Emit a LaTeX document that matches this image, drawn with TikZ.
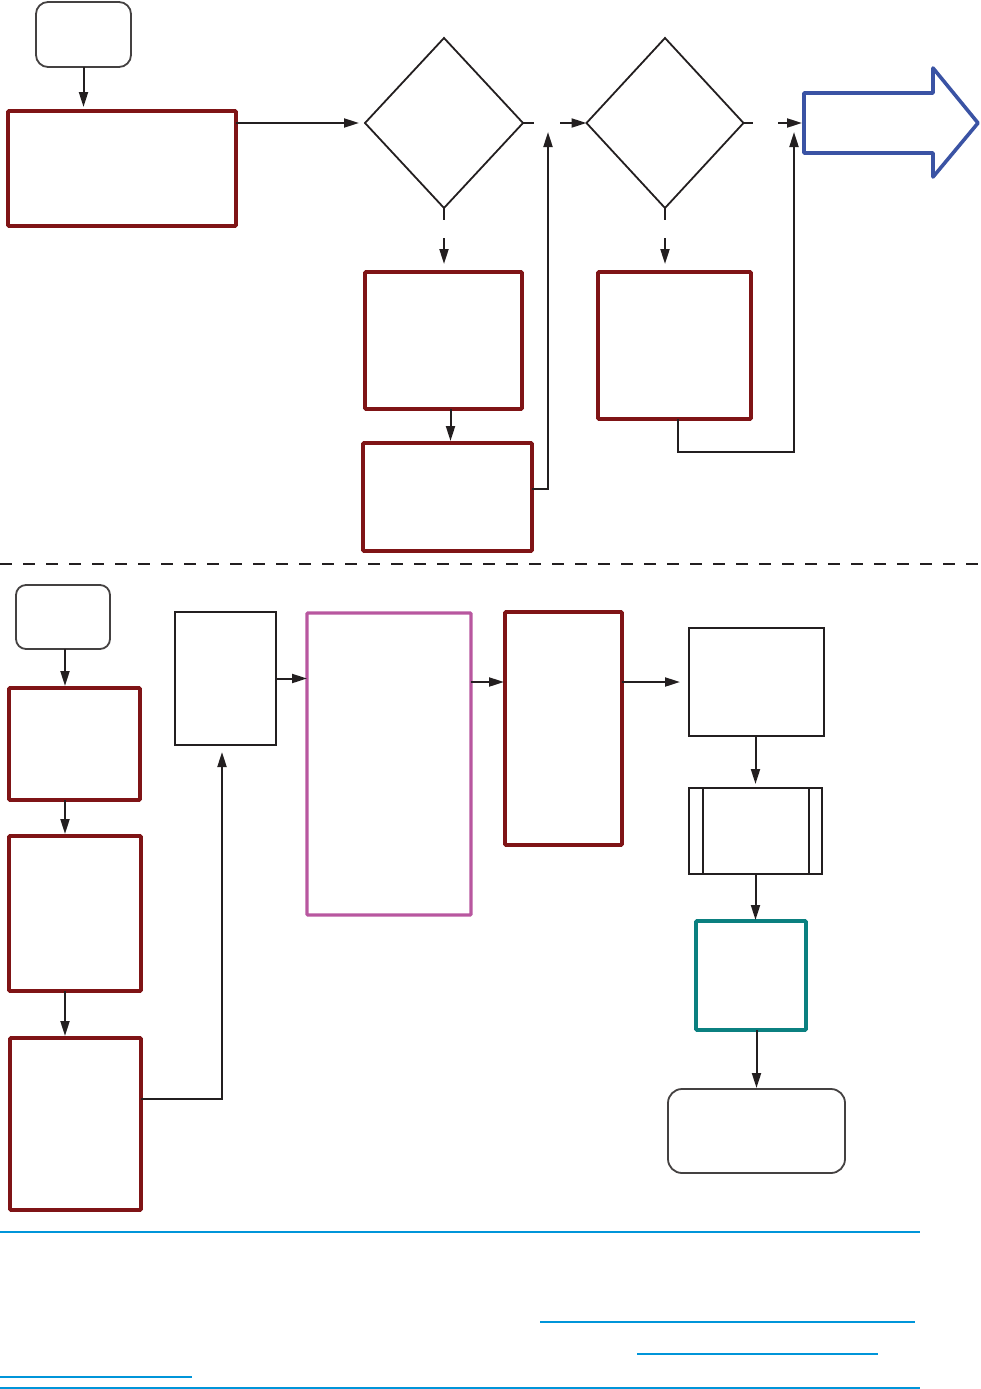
\documentclass[tikz,border=0pt]{standalone}
\usetikzlibrary{shapes.geometric,arrows.meta,calc}
\definecolor{dred}{RGB}{127,20,22}
\definecolor{mag}{RGB}{184,87,159}
\definecolor{teal2}{RGB}{11,128,128}
\definecolor{barblue}{RGB}{58,83,164}
\definecolor{lnblue}{RGB}{0,149,217}
\definecolor{ink}{RGB}{35,31,32}
\tikzset{
  base/.style={inner sep=0pt, outer sep=0pt, rectangle},
  redbox/.style={base, draw=dred, line width=3.8pt, rounded corners=1pt},
  blackbox/.style={base, draw=ink, line width=2.1pt},
  magbox/.style={base, draw=mag, line width=3.3pt, rounded corners=1pt},
  tealbox/.style={base, draw=teal2, line width=3.8pt, rounded corners=1pt},
  termbox/.style={base, draw=ink!85, line width=1.8pt, rounded corners=12pt},
  decbox/.style={diamond, inner sep=0pt, outer sep=0pt, draw=ink, line width=1.8pt},
  arr/.style={draw=ink, line width=2pt, -{Triangle[length=15pt,width=9pt]}},
  ln/.style={draw=ink, line width=2pt},
  blueline/.style={draw=lnblue, line width=1.5pt},
}
\begin{document}
\begin{tikzpicture}[x=1pt,y=-1pt]
\useasboundingbox (0,0) rectangle (981,1389);
% ---------- top section ----------
\node[termbox, minimum width=95pt, minimum height=65pt] (s1) at (83.5,34.5) {};
\node[redbox, minimum width=228pt, minimum height=115pt] (a) at (122,168.5) {};
\node[decbox, minimum width=158pt, minimum height=170pt] (d1) at (444,123) {};
\node[decbox, minimum width=157pt, minimum height=170pt] (d2) at (665,123) {};
\node[redbox, minimum width=157pt, minimum height=137pt] (b) at (443.5,340.5) {};
\node[redbox, minimum width=169pt, minimum height=108pt] (c) at (447.5,497) {};
\node[redbox, minimum width=153pt, minimum height=147pt] (e) at (674.5,345.5) {};
% big blue arrow
\draw[draw=barblue, line width=3.6pt, line join=round]
  (804,93) -- (933,93) -- (933,68) -- (978,123) -- (933,177) -- (933,153) -- (804,153) -- cycle;
\coordinate (bigarr) at (804,123);
\coordinate (j1) at (548,123);
\coordinate (j2) at (794,123);
% connectors
\draw[arr, shorten >=4pt] (s1.south) -- (s1.south |- a.north);
\draw[arr, shorten >=6pt] (a.east |- d1.west) -- (d1.west);
\draw[ln] (d1.east) -- ++(11,0);
\draw[arr] ([xshift=12pt]j1) -- (d2.west);
\draw[ln] (d2.east) -- ++(9,0);
\draw[arr, shorten >=2pt] ([xshift=-16pt]j2) -- (bigarr);
\draw[ln] (d1.south) -- ++(0,12);
\draw[arr, shorten >=8pt] ($(d1.south)+(0,30)$) -- (d1.south |- b.north);
\draw[ln] (d2.south) -- ++(0,12);
\draw[arr, shorten >=8pt] ($(d2.south)+(0,30)$) -- (d2.south |- e.north);
\draw[arr, shorten >=2pt] ([xshift=7pt]b.south) -- ([xshift=3pt]c.north);
\draw[arr, shorten >=9pt] ($(c.east)+(0,-8)$) -| (j1);
\draw[arr, shorten >=9pt] ([xshift=3pt]e.south) -- ++(0,33) -| (j2);
% dashed separator
\draw[draw=ink, line width=1.3pt, dash pattern=on 12pt off 11pt] (0,564) -- (981,564);
% ---------- bottom section ----------
\node[termbox, rounded corners=10pt, minimum width=94pt, minimum height=64pt] (s2) at (63,617) {};
\node[redbox, minimum width=131pt, minimum height=112pt] (f) at (74.5,744) {};
\node[redbox, minimum width=132pt, minimum height=155pt] (g) at (75,913.5) {};
\node[redbox, minimum width=131pt, minimum height=172pt] (h) at (75.5,1124) {};
\node[blackbox, minimum width=101pt, minimum height=133pt] (i) at (225.5,678.5) {};
\node[magbox, minimum width=164pt, minimum height=302pt] (j) at (389,764) {};
\node[redbox, minimum width=117pt, minimum height=233pt] (k) at (563.5,728.5) {};
\node[blackbox, minimum width=135pt, minimum height=108pt] (l) at (756.5,682) {};
\node[blackbox, minimum width=133pt, minimum height=86pt] (m) at (755.5,831) {};
\draw[draw=ink, line width=2.1pt] ([xshift=14pt]m.north west) -- ([xshift=14pt]m.south west);
\draw[draw=ink, line width=2.1pt] ([xshift=-13pt]m.north east) -- ([xshift=-13pt]m.south east);
\node[tealbox, minimum width=110pt, minimum height=109pt] (n) at (751,975.5) {};
\node[termbox, rounded corners=14pt, minimum width=177pt, minimum height=84pt] (o) at (756.5,1131) {};
% connectors
\draw[arr, shorten >=2pt] ([xshift=2pt]s2.south) -- ([xshift=2pt]s2.south |- f.north);
\draw[arr, shorten >=2pt] ([xshift=-9.5pt]f.south) -- ([xshift=-9.5pt]f.south |- g.north);
\draw[arr, shorten >=2pt] ([xshift=-10pt]g.south) -- ([xshift=-10pt]g.south |- h.north);
\draw[arr, shorten >=7pt] ($(h.east)+(0,-25)$) -| ([xshift=-3.5pt]i.south);
\draw[arr] (i.east) -- (j.west |- i.east);
\draw[arr, shorten >=1pt] (j.east |- l.west) -- (k.west |- l.west);
\draw[arr, shorten >=9pt] (k.east |- l.west) -- (l.west);
\draw[arr, shorten >=4pt] (l.south -| m.north) -- (m.north);
\draw[arr, shorten >=1pt] (m.south) -- (m.south |- n.north);
\draw[arr, shorten >=1pt] (o.north |- n.south) -- (o.north);
% ---------- footer rules ----------
\draw[blueline] (0,1232) -- (920,1232);
\draw[blueline, line width=1.3pt] (540,1322) -- (915,1322);
\draw[blueline, line width=1.3pt] (637,1354) -- (878,1354);
\draw[blueline, line width=2.6pt] (0,1377) -- (192,1377);
\draw[blueline] (0,1388) -- (920,1388);
\end{tikzpicture}
\end{document}
